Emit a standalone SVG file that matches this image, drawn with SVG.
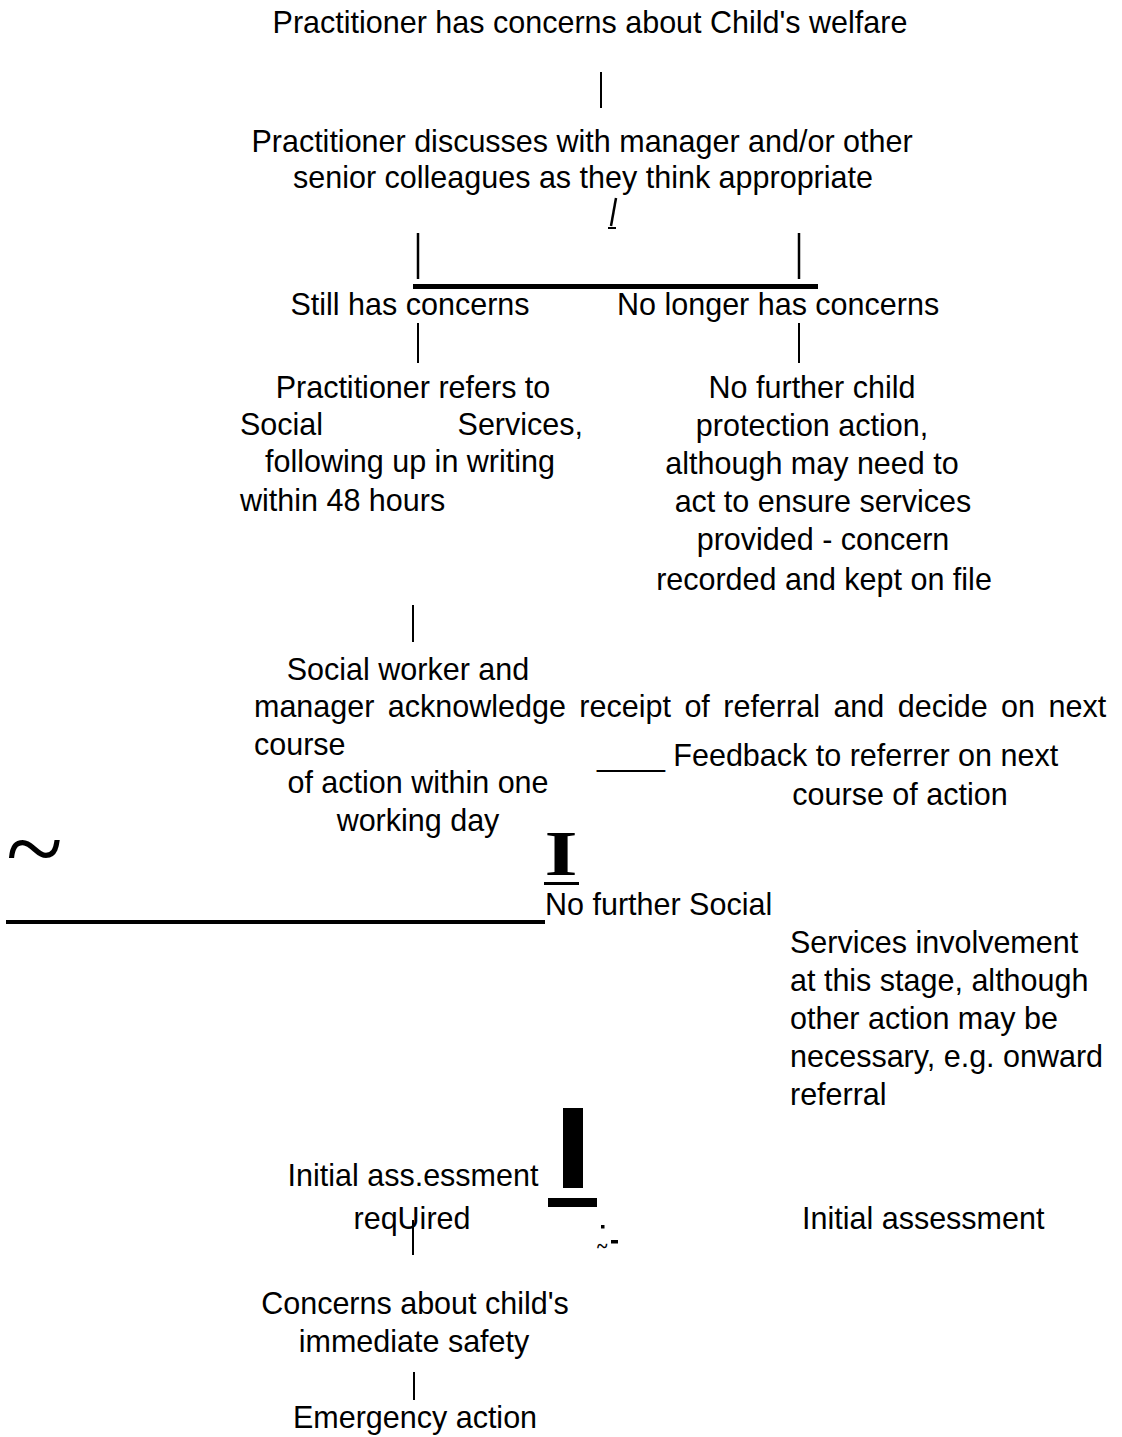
<svg xmlns="http://www.w3.org/2000/svg" width="1122" height="1437" viewBox="0 0 1122 1437">
<style>
.t{font-family:"Liberation Sans",Arial,sans-serif;font-size:30.5px;fill:#000}
.m{text-anchor:middle}
.ln{stroke:#000;stroke-width:2;fill:none}
.lw{stroke:#000;stroke-width:2.5;fill:none}
.serif{font-family:"Liberation Serif","Times New Roman",serif}
</style>
<rect width="1122" height="1437" fill="#fff"/>
<g id="connectors">
<line class="ln" x1="601" y1="72" x2="601" y2="108"/>
<line class="lw" x1="616" y1="198" x2="611" y2="226"/>
<line class="ln" x1="608" y1="228" x2="616" y2="228"/>
<line class="lw" x1="418" y1="233" x2="418" y2="279"/>
<line class="lw" x1="799" y1="233" x2="799" y2="279"/>
<rect x="413" y="284" width="405" height="5" fill="#000"/>
<line class="ln" x1="418" y1="323" x2="418" y2="363"/>
<line class="ln" x1="799" y1="323" x2="799" y2="363"/>
<line class="ln" x1="413" y1="605" x2="413" y2="642"/>
<rect x="544" y="882" width="35" height="3" fill="#000"/>
<rect x="6" y="920" width="539" height="4" fill="#000"/>
<rect x="563" y="1108" width="20" height="80" fill="#000"/>
<rect x="548" y="1198" width="49" height="9" fill="#000"/>
<line class="ln" x1="413" y1="1220" x2="413" y2="1255"/>
<line class="ln" x1="414" y1="1372" x2="414" y2="1400"/>
</g>
<g id="n1"><text class="t m" x="590" y="33">Practitioner has concerns about Child's welfare</text></g>
<g id="n2">
<text class="t m" x="582" y="152">Practitioner discusses with manager and/or other</text>
<text class="t m" x="583" y="188">senior colleagues as they think appropriate</text>
</g>
<g id="n3"><text class="t m" x="410" y="315">Still has concerns</text></g>
<g id="n4"><text class="t" x="617" y="315">No longer has concerns</text></g>
<g id="n5">
<text class="t m" x="413" y="398">Practitioner refers to</text>
<text class="t" y="435"><tspan x="240">Social</tspan><tspan x="583" text-anchor="end">Services,</tspan></text>
<text class="t m" x="410" y="472">following up in writing</text>
<text class="t" x="240" y="511">within 48 hours</text>
</g>
<g id="n6">
<text class="t m" x="812" y="398">No further child</text>
<text class="t m" x="812" y="436">protection action,</text>
<text class="t m" x="812" y="474">although may need to</text>
<text class="t m" x="823" y="512">act to ensure services</text>
<text class="t m" x="823" y="550">provided - concern</text>
<text class="t m" x="824" y="590">recorded and kept on file</text>
</g>
<g id="n7">
<text class="t m" x="408" y="680">Social worker and</text>
<text class="t" x="254" y="717" word-spacing="5">manager acknowledge receipt of referral and decide on next</text>
<text class="t" x="254" y="755">course</text>
<text class="t m" x="418" y="793">of action within one</text>
<text class="t m" x="418" y="831">working day</text>
</g>
<g id="n8">
<text class="t" x="597" y="766">____ Feedback to referrer on next</text>
<text class="t m" x="900" y="805">course of action</text>
</g>
<g id="glyphs">
<text class="serif" transform="translate(561,875) scale(1.35,1)" text-anchor="middle" style="font-size:63px;font-weight:bold">I</text>
<text class="serif" x="6" y="884" style="font-size:105px">~</text>
<rect x="601" y="1225" width="3.5" height="3.5" fill="#000"/>
<text class="serif" x="597" y="1253" style="font-size:20px;font-weight:bold">~</text>
<rect x="611" y="1240" width="7" height="3.5" fill="#000"/>
</g>
<g id="n9">
<text class="t" x="545" y="915">No further Social</text>
<text class="t" x="790" y="953">Services involvement</text>
<text class="t" x="790" y="991">at this stage, although</text>
<text class="t" x="790" y="1029">other action may be</text>
<text class="t" x="790" y="1067">necessary, e.g. onward</text>
<text class="t" x="790" y="1105">referral</text>
</g>
<g id="n10">
<text class="t m" x="413" y="1186">Initial ass.essment</text>
<text class="t m" x="412" y="1229">reqUired</text>
</g>
<g id="n11"><text class="t" x="802" y="1229">Initial assessment</text></g>
<g id="n12">
<text class="t m" x="415" y="1314">Concerns about child's</text>
<text class="t m" x="414" y="1352">immediate safety</text>
</g>
<g id="n13"><text class="t m" x="415" y="1428">Emergency action</text></g>
</svg>
